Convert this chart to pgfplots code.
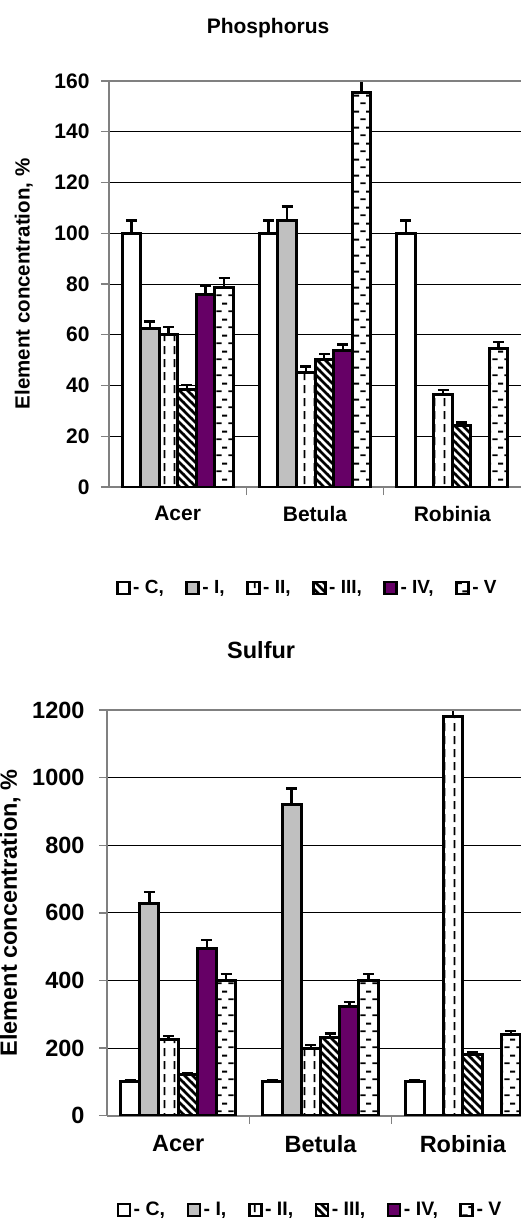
\documentclass[border=0pt]{standalone}
\usepackage{fontspec}
\setmainfont{Liberation Sans}
\usepackage{pgfplots}
\pgfplotsset{compat=1.18}
\usetikzlibrary{patterns}
\definecolor{purp}{RGB}{102,0,102}
\definecolor{silv}{RGB}{192,192,192}
\definecolor{axgray}{RGB}{128,128,128}

\pgfdeclarepatternformonly{vdash}{\pgfpoint{0pt}{0pt}}{\pgfpoint{10pt}{13pt}}{\pgfpoint{10pt}{13pt}}{%
  \pgfsetlinewidth{2pt}%
  \pgfpathmoveto{\pgfpoint{5pt}{2pt}}\pgfpathlineto{\pgfpoint{5pt}{10.5pt}}\pgfusepath{stroke}}
\pgfdeclarepatternformonly{bdiag}{\pgfpoint{-1pt}{-1pt}}{\pgfpoint{9pt}{9pt}}{\pgfpoint{8pt}{8pt}}{%
  \pgfsetlinewidth{2.6pt}%
  \pgfpathmoveto{\pgfpoint{-1pt}{9pt}}\pgfpathlineto{\pgfpoint{9pt}{-1pt}}\pgfusepath{stroke}}
\pgfdeclarepatternformonly{hdash}{\pgfpoint{0pt}{0pt}}{\pgfpoint{12pt}{16pt}}{\pgfpoint{12pt}{16pt}}{%
  \pgfsetlinewidth{2pt}%
  \pgfpathmoveto{\pgfpoint{0.5pt}{4pt}}\pgfpathlineto{\pgfpoint{6pt}{4pt}}%
  \pgfpathmoveto{\pgfpoint{6.5pt}{12pt}}\pgfpathlineto{\pgfpoint{12pt}{12pt}}\pgfusepath{stroke}}

\pgfplotsset{
  mybar/.style={
    scale only axis, ybar, bar width=0.135,
    xmin=-0.5, xmax=2.5, ymin=0,
    axis x line*=bottom, axis y line*=left,
    axis line style={axgray, line width=1.8pt},
    xtick={0.5,1.5}, xticklabels={},
    extra x ticks={0,1,2}, extra x tick labels={Acer,Betula,Robinia},
    extra x tick style={major tick length=0pt, xticklabel style={yshift=-16pt}},
    tick align=outside, major tick length=8pt,
    tick style={axgray, line width=1.4pt},
    ymajorgrids, grid style={black, line width=0.8pt},
    /pgf/number format/assume math mode=true,
    /pgf/number format/1000 sep={},
    error bars/y dir=plus, error bars/y explicit,
    error bars/error bar style={black, line width=2.4pt},
    error bars/error mark options={rotate=90, black, line width=2.4pt, mark size=5.5pt},
    legend columns=6,
    legend style={draw=none, fill=none, anchor=center,
      /tikz/every even column/.append style={column sep=19pt},
      nodes={inner xsep=2.5pt}},
    legend image code/.code={\draw[##1, line width=2.6pt] (0pt,-6pt) rectangle (12pt,6pt);},
    after end axis/.code={\draw[axgray, line width=1.8pt] (rel axis cs:0,1) -- (rel axis cs:1,1);},
    ylabel={Element concentration, \%},
    every axis title shift=0pt,
    title style={anchor=center},
    ylabel style={anchor=center},
  },
  sbase/.style={draw=black, line width=3pt},
  sC/.style={sbase, fill=white, bar shift=-0.3375},
  sI/.style={sbase, fill=silv, bar shift=-0.2025},
  sII/.style={sbase, fill=white, postaction={pattern=vdash}, bar shift=-0.0675},
  sIII/.style={sbase, fill=white, postaction={pattern=bdiag}, bar shift=0.0675},
  sIV/.style={sbase, fill=purp, bar shift=0.2025},
  sV/.style={sbase, fill=white, postaction={pattern=hdash}, bar shift=0.3375},
}

\begin{document}
\begin{tikzpicture}
\useasboundingbox (0,0) rectangle (520pt,-1227pt);
% ---------------- Phosphorus ----------------
\begin{axis}[mybar,
  at={(109pt,-487pt)}, anchor=south west,
  width=412pt, height=406pt,
  ymax=160, ytick={0,20,...,160},
  tick label style={font=\bfseries\fontsize{21}{25}\selectfont},
  yticklabel style={xshift=-8pt},
  title={Phosphorus},
  title style={at={(axis description cs:0.386,1.13)}, font=\bfseries\fontsize{21}{25}\selectfont},
  ylabel style={at={(axis description cs:-0.207,0.5)}, font=\bfseries\fontsize{20.5}{24}\selectfont},
  legend style={at={(axis description cs:0.482,-0.249)}, font=\bfseries\fontsize{19}{22}\selectfont},
]
\addplot[sC] coordinates {(0,100) +- (0,5) (1,100) +- (0,5) (2,100) +- (0,5)};
\addlegendentry{- C,}
\addplot[sI] coordinates {(0,62.3) +- (0,3) (1,105.2) +- (0,5.3) (2,0) +- (0,0)};
\addlegendentry{- I,}
\addplot[sII] coordinates {(0,60) +- (0,3) (1,45.3) +- (0,2.2) (2,36.5) +- (0,1.8)};
\addlegendentry{- II,}
\addplot[sIII] coordinates {(0,38.6) +- (0,1.7) (1,50.2) +- (0,2.3) (2,24.2) +- (0,1.2)};
\addlegendentry{- III,}
\addplot[sIV] coordinates {(0,75.7) +- (0,3.7) (1,53.6) +- (0,2.5) (2,0) +- (0,0)};
\addlegendentry{- IV,}
\addplot[sV] coordinates {(0,78.8) +- (0,3.6) (1,155.3) +- (0,6) (2,54.7) +- (0,2.5)};
\addlegendentry{- V}
\end{axis}
% ---------------- Sulfur ----------------
\begin{axis}[mybar,
  at={(107pt,-1115.7pt)}, anchor=south west,
  width=427pt, height=405.7pt,
  ymax=1200, ytick={0,200,...,1200},
  tick label style={font=\bfseries\fontsize{23.5}{28}\selectfont},
  yticklabel style={xshift=-11pt},
  title={Sulfur},
  title style={at={(axis description cs:0.361,1.147)}, font=\bfseries\fontsize{23.5}{28}\selectfont},
  ylabel style={at={(axis description cs:-0.227,0.5)}, font=\bfseries\fontsize{23.5}{28}\selectfont},
  legend style={at={(axis description cs:0.476,-0.232)}, font=\bfseries\fontsize{19.5}{23}\selectfont},
]
\addplot[sC] coordinates {(0,100) +- (0,4) (1,100) +- (0,4) (2,100) +- (0,4)};
\addlegendentry{- C,}
\addplot[sI] coordinates {(0,628) +- (0,33) (1,922) +- (0,46) (2,0) +- (0,0)};
\addlegendentry{- I,}
\addplot[sII] coordinates {(0,225) +- (0,11) (1,199) +- (0,10) (2,1180) +- (0,30)};
\addlegendentry{- II,}
\addplot[sIII] coordinates {(0,122) +- (0,5) (1,232) +- (0,11) (2,180) +- (0,8)};
\addlegendentry{- III,}
\addplot[sIV] coordinates {(0,495) +- (0,25) (1,323) +- (0,14) (2,0) +- (0,0)};
\addlegendentry{- IV,}
\addplot[sV] coordinates {(0,400) +- (0,20) (1,400) +- (0,20) (2,241) +- (0,10)};
\addlegendentry{- V}
\end{axis}
\end{tikzpicture}
\end{document}
